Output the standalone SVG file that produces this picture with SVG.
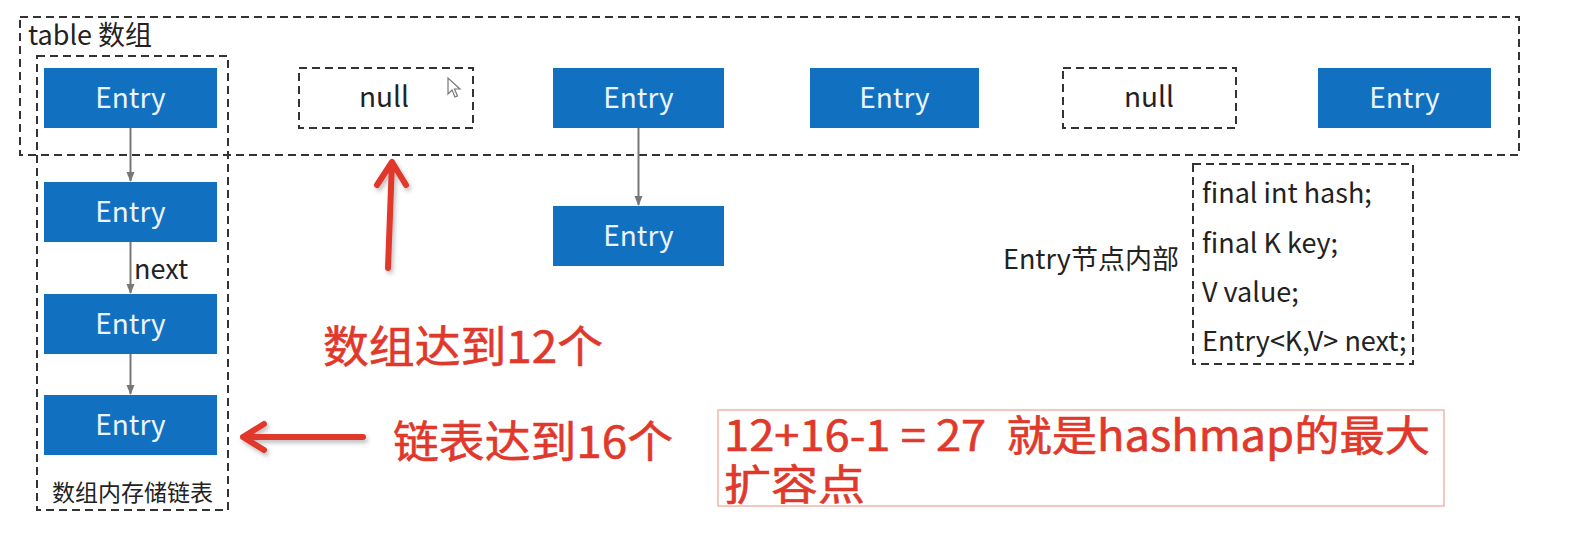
<svg xmlns="http://www.w3.org/2000/svg" width="1596" height="550" viewBox="0 0 1596 550">
<defs>
<style>
.dash{fill:none;stroke:#333;stroke-width:2;stroke-dasharray:8 5}
.entry rect{fill:#1170c0}
.entry text{fill:#eaf5ff;font-family:"Noto Sans CJK SC","Noto Sans",sans-serif;font-size:28px;text-anchor:middle}
.blk{fill:#222;font-family:"Noto Sans CJK SC","Noto Sans",sans-serif}
.red{fill:#e0392c;stroke:#e0392c;stroke-width:0.6;font-family:"Noto Sans CJK SC","Noto Sans",sans-serif;font-weight:400}
.link{stroke:#777;stroke-width:2;fill:none;marker-end:url(#gh)}
.rarrow{stroke:#e0392c;stroke-width:6;fill:none;stroke-linecap:round;stroke-linejoin:round;filter:url(#sh)}
</style>
<marker id="gh" viewBox="0 0 10 10" refX="9" refY="5" markerWidth="5" markerHeight="5" orient="auto">
<path d="M0,1 L10,5 L0,9 Z" fill="#777"/>
</marker>
<filter id="sh" x="-50%" y="-50%" width="200%" height="200%">
<feDropShadow dx="2" dy="3" stdDeviation="2" flood-color="#000" flood-opacity="0.25"/>
</filter>
</defs>
<rect width="1596" height="550" fill="#fff"/>

<g id="table">
<rect class="dash" x="20" y="17" width="1499" height="138"/>
<text class="blk" x="28" y="45" font-size="27">table 数组</text>
</g>

<g id="bucket0">
<rect class="dash" x="37" y="56" width="191" height="454"/>
<text class="blk" x="52" y="501" font-size="23" textLength="161" lengthAdjust="spacingAndGlyphs">数组内存储链表</text>
</g>

<g id="e0" class="entry"><rect x="44" y="68" width="173" height="60"/><text x="130.5" y="108">Entry</text></g>
<g id="e1" class="entry"><rect x="44" y="182" width="173" height="60"/><text x="130.5" y="222">Entry</text></g>
<g id="e2" class="entry"><rect x="44" y="294" width="173" height="60"/><text x="130.5" y="334">Entry</text></g>
<g id="e3" class="entry"><rect x="44" y="395" width="173" height="60"/><text x="130.5" y="435">Entry</text></g>

<g id="null1">
<rect class="dash" x="299" y="68" width="174" height="60"/>
<text class="blk" x="384" y="107" font-size="28" text-anchor="middle">null</text>
<path d="M448,78 L448,94 L452,90 L455,97 L457.5,96 L454.5,89 L460,89 Z" fill="#fff" stroke="#777" stroke-width="1.2"/>
</g>

<g id="m0" class="entry"><rect x="553" y="68" width="171" height="60"/><text x="638.5" y="108">Entry</text></g>
<g id="m1" class="entry"><rect x="553" y="206" width="171" height="60"/><text x="638.5" y="246">Entry</text></g>
<g id="e4" class="entry"><rect x="810" y="68" width="169" height="60"/><text x="894.5" y="108">Entry</text></g>

<g id="null2">
<rect class="dash" x="1063" y="68" width="173" height="60"/>
<text class="blk" x="1149" y="107" font-size="28" text-anchor="middle">null</text>
</g>

<g id="e5" class="entry"><rect x="1318" y="68" width="173" height="60"/><text x="1404.5" y="108">Entry</text></g>

<g id="entryInfo">
<text class="blk" x="1003" y="269" font-size="27">Entry节点内部</text>
<rect class="dash" x="1193" y="164" width="220" height="200"/>
<text class="blk" x="1202" y="203" font-size="27">final int hash;</text>
<text class="blk" x="1202" y="253" font-size="27">final K key;</text>
<text class="blk" x="1202" y="302" font-size="27">V value;</text>
<text class="blk" x="1202" y="351" font-size="27">Entry&lt;K,V&gt; next;</text>
</g>

<g id="connectors">
<line class="link" x1="130.5" y1="128" x2="130.5" y2="181"/>
<line class="link" x1="130.5" y1="242" x2="130.5" y2="293"/>
<line class="link" x1="130.5" y1="354" x2="130.5" y2="394"/>
<line class="link" x1="638.5" y1="128" x2="638.5" y2="205"/>
<text class="blk" x="134" y="279" font-size="27">next</text>
<path class="rarrow" d="M388,268 L392,162 M377,185 L392,162 L406,185"/>
<path class="rarrow" d="M363,437 L243,437 M264,424 L243,437 L264,450"/>
</g>

<g id="notes">
<text class="red" x="323" y="363" font-size="44" textLength="280" lengthAdjust="spacingAndGlyphs">数组达到12个</text>
<text class="red" x="393" y="458" font-size="44" textLength="280" lengthAdjust="spacingAndGlyphs">链表达到16个</text>
<rect x="718" y="410" width="726" height="96" fill="none" stroke="#f2b5ad" stroke-width="1.5"/>
<text class="red" x="724" y="451" font-size="42" xml:space="preserve" textLength="706" lengthAdjust="spacingAndGlyphs">12+16-1 = 27  就是hashmap的最大</text>
<text class="red" x="724" y="500" font-size="42" textLength="141" lengthAdjust="spacingAndGlyphs">扩容点</text>
</g>
</svg>
